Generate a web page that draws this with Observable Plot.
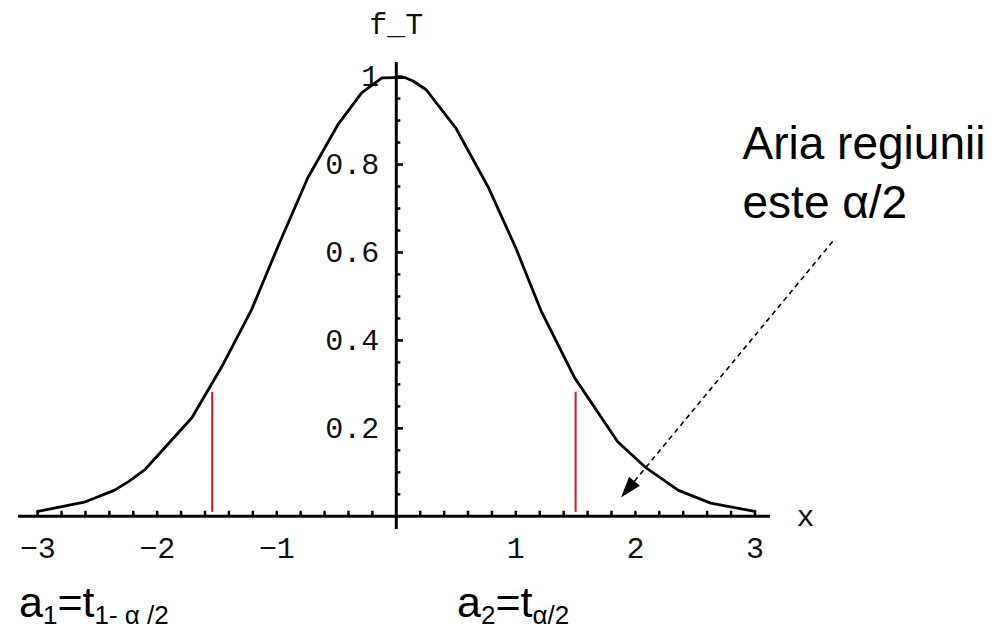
<!DOCTYPE html>
<html>
<head>
<meta charset="utf-8">
<script src="https://cdn.jsdelivr.net/npm/d3@7"></script>
<script src="https://cdn.jsdelivr.net/npm/@observablehq/plot@0.6"></script>
<style>
  body { margin: 0; background: #fff; }
  #wrap { position: relative; width: 1000px; height: 629px; overflow: hidden; }
  .lab { position: absolute; font-family: "Liberation Sans", Arial, sans-serif; font-size: 43px; line-height: 40px; color: #000; white-space: nowrap; }
  .lab sub { font-size: 26px; vertical-align: -7px; line-height: 0; }
</style>
</head>
<body>
<div id="wrap">
  <div id="chart"></div>
  <div class="lab" style="left:19px; top:582px;">a<sub>1</sub>=t<sub>1- α /2</sub></div>
  <div class="lab" style="left:457px; top:582px;">a<sub>2</sub>=t<sub>α/2</sub></div>
</div>
<script>
// Curve vertices
const curveX = [-3.0, -2.61, -2.36, -2.24, -2.10, -1.99, -1.71, -1.46, -1.21, -0.98, -0.74, -0.49, -0.29, -0.12, 0.07, 0.14, 0.25, 0.50, 0.77, 1.00, 1.21, 1.49, 1.85, 2.09, 2.36, 2.63, 3.0];
const curveY = [0.011, 0.032, 0.059, 0.079, 0.107, 0.140, 0.224, 0.340, 0.470, 0.620, 0.770, 0.890, 0.963, 0.997, 0.998, 0.990, 0.970, 0.882, 0.748, 0.610, 0.468, 0.316, 0.170, 0.110, 0.059, 0.030, 0.011];

// Critical values (red lines)
const critX = [-1.54, 1.50];
const critTop = 0.282;

// Tick labels
const xTickVals = [-3, -2, -1, 1, 2, 3];
const xTickLabels = ["\u22123", "\u22122", "\u22121", "1", "2", "3"];
const yTickVals = [0.2, 0.4, 0.6, 0.8, 1];
const yTickLabels = ["0.2", "0.4", "0.6", "0.8", "1"];
const xMinor = d3.range(-30, 31, 2).filter(v => v !== 0).map(v => v / 10);
const yMinor = d3.range(1, 21).map(v => v / 20).filter(v => Math.round(v * 100) % 20 !== 0);

// Annotation
const annText = "Aria regiunii\neste \u03b1/2";
const annPos = [2.896, 0.788];
const arrowFrom = [3.65, 0.625];
const arrowTo = [1.88, 0.043];

const curve = curveX.map((x, i) => ({x, y: curveY[i]}));

const arrowHead = {
  draw(context) {
    context.moveTo(0, 0);
    context.lineTo(-7, 21);
    context.lineTo(7, 21);
    context.closePath();
  }
};

const mono = "'Liberation Mono', 'Courier New', monospace";
const xTickLen = 0.0115;
const yMajLen = 0.06, yMinLen = 0.038;

const plot = Plot.plot({
  width: 1000,
  height: 570,
  marginLeft: 18,
  marginRight: 230,
  marginTop: 62,
  marginBottom: 41,
  x: {domain: [-3.16, 3.13], axis: null},
  y: {domain: [-0.03, 1.032], axis: null},
  marks: [
    // axes
    Plot.ruleY([0], {x1: -3.16, x2: 3.13, stroke: "black", strokeWidth: 3}),
    Plot.ruleX([0], {y1: -0.03, y2: 1.032, stroke: "black", strokeWidth: 3}),
    // x ticks
    Plot.ruleX(xMinor, {x: d => d, y1: 0, y2: xTickLen, stroke: "black", strokeWidth: 2.5}),
    // y ticks
    Plot.ruleY(yTickVals, {y: d => d, x1: 0, x2: yMajLen, stroke: "black", strokeWidth: 2.5}),
    Plot.ruleY(yMinor, {y: d => d, x1: 0, x2: yMinLen, stroke: "black", strokeWidth: 2.5}),
    // tick labels
    Plot.text(xTickVals, {x: d => d, y: 0, text: (d, i) => xTickLabels[i], dy: 32, lineAnchor: "middle", textAnchor: "middle", fontFamily: mono, fontSize: 30, fill: "#111"}),
    Plot.text(yTickVals, {x: 0, y: d => d, text: (d, i) => yTickLabels[i], dx: -17, lineAnchor: "middle", textAnchor: "end", fontFamily: mono, fontSize: 30, fill: "#111"}),
    // axis labels
    Plot.text(["f_T"], {x: 0, y: 1.032, text: d => d, dy: -29, textAnchor: "middle", lineAnchor: "bottom", fontFamily: mono, fontSize: 30, fill: "#111"}),
    Plot.text(["x"], {x: 3.13, y: 0, text: d => d, dx: 35, lineAnchor: "middle", textAnchor: "middle", fontFamily: mono, fontSize: 30, fill: "#111"}),
    // curve
    Plot.line(curve, {x: "x", y: "y", stroke: "black", strokeWidth: 2.8, strokeLinejoin: "round"}),
    // red critical lines
    Plot.ruleX(critX, {x: d => d, y1: 0.009, y2: critTop, stroke: "#d71414", strokeWidth: 2}),
    // arrow
    Plot.link([0], {x1: arrowFrom[0], y1: arrowFrom[1], x2: arrowTo[0], y2: arrowTo[1], stroke: "black", strokeWidth: 1.6, strokeDasharray: "5,4"}),
    Plot.dot([0], {x: arrowTo[0], y: arrowTo[1], symbol: arrowHead, fill: "black", stroke: "none", rotate: 219.6, r: 5}),
    // annotation text
    Plot.text([annText], {x: annPos[0], y: annPos[1], text: d => d, textAnchor: "start", lineAnchor: "middle", lineHeight: 1.283, fontFamily: "'Liberation Sans', Arial, sans-serif", fontSize: 46, fill: "black"})
  ]
});
document.getElementById("chart").appendChild(plot);
</script>
</body>
</html>
